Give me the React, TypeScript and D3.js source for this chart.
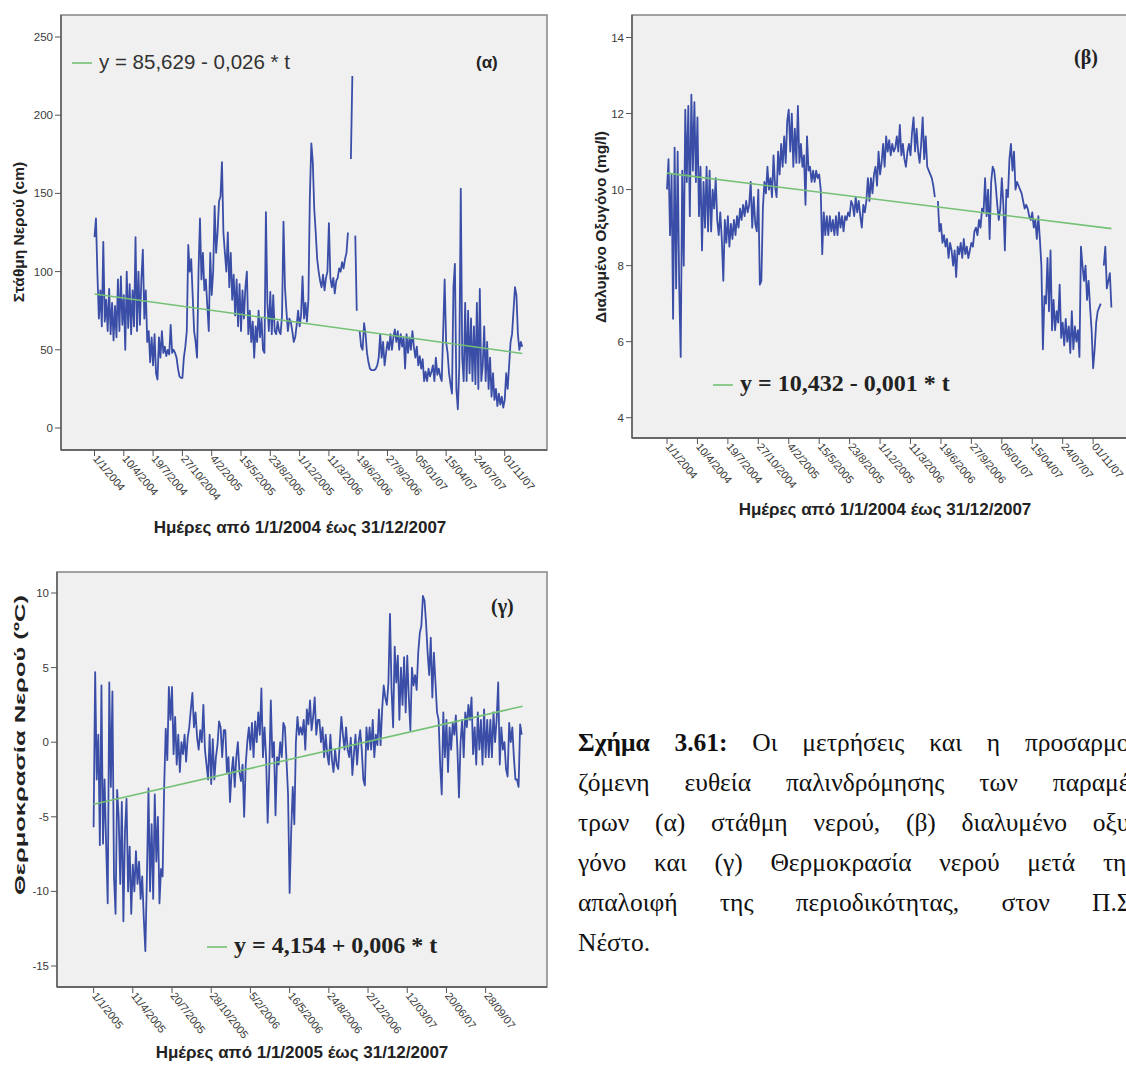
import React from 'react';
import * as d3 from 'd3';

// ---------- DATA ----------
// Water level (cm), one reading every 5 days from 1/1/2004 (null = no data)
const waterLevel: (number | null)[] = [
  122,134,98,70,88,65,119,68,82,62,
  89,60,80,56,78,58,95,62,97,66,
  85,50,100,64,92,60,88,65,122,62,
  100,66,95,114,70,88,55,62,42,58,
  40,60,35,31,58,45,62,48,52,46,
  50,47,66,48,50,48,45,38,33,32,
  32,45,52,62,117,100,108,85,62,55,
  45,100,134,95,112,88,95,78,62,112,
  85,100,142,112,125,145,148,170,125,112,
  100,125,90,112,82,98,72,95,65,92,
  62,88,70,90,100,60,75,55,68,45,
  65,55,75,58,70,50,48,138,80,62,
  87,60,85,62,60,68,62,60,72,132,
  90,75,62,70,68,62,55,58,66,75,
  65,72,97,70,80,68,82,148,182,170,
  140,125,108,100,94,90,98,88,96,100,
  131,96,90,96,86,94,96,102,100,106,
  102,108,112,125,null,172,225,null,123,75,
  null,62,52,50,67,60,48,42,38,37,
  37,37,38,40,45,60,45,55,40,48,
  55,50,60,50,58,63,55,62,50,60,
  52,58,38,60,48,58,50,62,52,45,
  52,40,46,38,44,30,36,30,38,33,
  36,40,30,45,34,38,33,30,62,95,
  55,48,35,28,22,90,105,25,12,40,
  153,45,30,80,30,75,35,70,30,65,
  28,80,25,89,30,40,65,30,55,25,
  45,20,35,18,25,14,22,15,20,13,
  18,35,25,40,55,60,75,90,85,60,
  50,55,52
];

// Dissolved oxygen (mg/l), one reading every 5 days from 1/1/2004
const dissolvedOxygen: (number | null)[] = [
  10.0,10.8,8.8,10.4,6.6,11.1,7.4,11.0,7.5,5.6,
  10.5,8.0,12.1,10.2,12.2,9.3,12.5,10.5,12.3,10.2,
  11.9,9.3,10.6,8.4,10.2,9.0,10.6,8.9,10.5,8.9,
  10.0,9.5,10.3,9.2,8.8,9.4,8.7,7.6,9.2,8.6,
  9.3,8.5,9.1,8.7,9.2,8.8,9.3,9.0,9.5,9.2,
  9.6,9.3,9.7,9.4,9.6,10.2,9.0,9.8,9.1,8.9,
  10.0,7.5,7.6,9.5,10.2,9.9,10.6,10.0,10.3,9.8,
  10.9,10.1,9.8,11.0,10.4,11.2,10.6,11.4,10.7,11.8,
  12.1,11.0,12.0,10.6,11.6,10.7,12.2,10.7,11.2,10.6,
  10.9,9.6,11.4,10.5,10.6,10.2,10.5,10.2,10.5,10.3,
  10.4,10.0,8.3,9.4,8.8,9.3,8.8,9.3,8.9,9.2,
  8.8,9.3,8.8,9.4,9.0,9.3,8.9,9.3,9.2,9.4,
  9.3,9.7,9.6,9.3,9.8,9.4,9.7,9.3,9.0,9.6,
  9.4,9.7,10.3,9.7,10.3,9.9,10.4,10.6,10.1,11.0,
  10.4,10.7,11.2,10.6,11.4,11.0,11.3,10.9,11.2,11.0,
  11.1,11.4,11.0,11.7,10.9,11.2,10.8,10.6,11.0,11.2,
  10.9,11.5,11.9,11.0,11.6,11.0,10.7,11.2,11.9,10.8,
  11.4,10.6,10.5,10.4,10.3,10.1,9.8,null,9.7,8.9,
  9.1,8.6,8.8,8.5,8.7,8.2,8.6,8.4,8.0,8.4,
  7.7,8.5,8.3,8.6,8.2,8.7,8.3,8.5,8.2,8.4,
  8.6,8.5,8.9,9.0,8.8,9.2,9.0,9.5,9.4,10.3,
  9.3,10.0,8.7,10.2,10.6,10.5,10.1,9.6,9.2,9.5,
  10.3,9.6,8.4,10.0,9.8,10.8,11.2,10.5,11.0,10.0,
  10.2,10.1,10.0,9.9,9.7,9.5,9.6,9.5,9.3,9.2,
  9.4,9.0,9.2,8.7,9.3,8.7,8.0,5.8,7.2,7.0,
  8.2,6.8,8.4,6.3,7.1,6.3,6.8,6.5,7.5,6.1,
  6.5,5.9,6.6,6.0,6.4,5.7,6.8,5.8,6.4,6.0,
  6.3,5.6,8.5,8.0,7.6,8.0,7.1,7.6,6.9,6.3,
  5.3,5.8,6.5,6.8,6.9,7.0,null,8.0,8.5,7.4,
  7.6,7.8,6.9
];

// Water temperature anomaly (ºC), one reading every 4 days from 1/1/2005
const waterTemp: (number | null)[] = [
  -5.7,4.7,-2.5,0.5,-6.9,3.8,-6.8,-2.5,-6.9,-10.8,
  4.0,-3.0,3.4,-9.0,-11.5,-3.2,-5.0,-9.5,-4.0,-12.0,
  -6.0,-3.8,-10.0,-7.0,-11.5,-8.2,-10.0,-7.3,-9.5,-8.0,
  -10.5,-9.0,-11.8,-14.0,-9.0,-3.1,-10.0,-5.5,-10.5,-3.5,
  -8.0,-5.0,-10.8,-8.5,-9.0,-3.0,0.9,-1.2,3.7,1.5,
  3.7,-0.8,1.7,-1.5,0.5,-2.0,0.0,-0.8,0.5,-1.3,
  0.3,1.0,2.2,3.3,1.0,2.0,0.3,-0.5,0.8,0.0,
  2.5,-0.5,-1.5,-2.5,0.5,-2.8,0.2,-2.5,-1.0,-0.2,
  1.4,1.0,-1.0,0.8,0.8,-2.0,-1.0,-4.0,-2.0,-1.0,
  -3.0,-1.0,0.0,-2.0,-2.6,-1.5,-5.0,-1.5,0.0,1.0,
  -0.5,1.3,-1.0,1.4,0.0,2.0,0.5,3.6,-1.0,1.0,
  -1.0,-5.4,-2.0,2.8,-1.0,0.0,-4.9,-1.0,-1.5,0.0,
  -1.0,1.3,1.0,-1.2,-3.5,-10.1,-6.0,-3.0,-5.5,0.0,
  1.7,0.5,1.0,0.5,1.5,-0.5,2.2,1.2,2.8,0.8,
  1.7,3.0,0.5,1.5,1.5,0.0,1.0,-1.0,0.5,-0.8,
  -1.5,0.5,-1.2,-2.0,-0.5,-1.5,-1.8,0.0,1.7,0.5,
  -0.5,1.0,-0.5,-1.0,0.3,-2.2,-0.8,0.5,-1.5,0.0,
  0.8,-0.5,-2.5,-2.9,1.0,-0.5,1.0,-0.5,1.5,-1.0,
  0.5,-0.2,2.2,-0.2,2.2,3.8,3.0,2.5,4.0,8.6,
  3.5,1.0,6.4,4.0,5.8,1.5,5.0,2.5,5.7,2.0,
  5.8,3.0,0.8,5.0,3.8,4.5,3.5,6.0,7.3,7.8,
  9.8,9.5,8.0,6.0,4.5,7.0,3.0,6.0,4.0,2.0,
  1.5,-1.5,-3.5,2.0,-1.0,1.5,-2.0,1.0,-0.5,1.3,
  0.5,1.8,-0.5,-3.7,0.0,1.5,-1.0,2.0,1.0,2.5,
  1.5,3.0,-0.8,1.0,-1.5,2.0,-0.5,1.5,-1.5,2.2,
  -1.0,1.5,-1.0,1.5,-1.0,2.0,0.0,1.5,4.0,-1.5,
  1.0,-0.5,0.0,-1.8,-2.3,1.3,0.0,1.0,-1.0,-2.5,
  -2.5,-3.0,1.2,0.5
];

// x tick labels (every 100 days)
const dateTicks2004 = [
  '1/1/2004', '10/4/2004', '19/7/2004', '27/10/2004', '4/2/2005', '15/5/2005',
  '23/8/2005', '1/12/2005', '11/3/2006', '19/6/2006', '27/9/2006', '05/01/07',
  '15/04/07', '24/07/07', '01/11/07'
];
const dateTicks2005 = [
  '1/1/2005', '11/4/2005', '20/7/2005', '28/10/2005', '5/2/2006', '16/5/2006',
  '24/8/2006', '2/12/2006', '12/03/07', '20/06/07', '28/09/07'
];

// y ticks
const levelTicks = [0, 50, 100, 150, 200, 250];
const oxygenTicks = [4, 6, 8, 10, 12, 14];
const tempTicks = [-15, -10, -5, 0, 5, 10];

// regression lines: [intercept, slope per day]
const levelTrend = [85.629, -0.026];
const oxygenTrend = [10.432, -0.001];
const tempTrend = [-4.154, 0.006];

const levelEquation = 'y = 85,629 - 0,026 * t';
const oxygenEquation = 'y = 10,432 - 0,001 * t';
const tempEquation = 'y = 4,154 + 0,006 * t';

const captionLines: { bold: string[]; words: string[]; justify: boolean }[] = [
  { bold: ['Σχήμα', '3.61:'], words: ['Οι', 'μετρήσεις', 'και', 'η', 'προσαρμο-'], justify: true },
  { bold: [], words: ['ζόμενη', 'ευθεία', 'παλινδρόμησης', 'των', 'παραμέ-'], justify: true },
  { bold: [], words: ['τρων', '(α)', 'στάθμη', 'νερού,', '(β)', 'διαλυμένο', 'οξυ-'], justify: true },
  { bold: [], words: ['γόνο', 'και', '(γ)', 'Θερμοκρασία', 'νερού', 'μετά', 'την'], justify: true },
  { bold: [], words: ['απαλοιφή', 'της', 'περιοδικότητας,', 'στον', 'Π.Σ.'], justify: true },
  { bold: [], words: ['Νέστο.'], justify: false },
];

// ---------- STYLE ----------
const SANS = "'Liberation Sans', Arial, sans-serif";
const SERIF = "'Liberation Serif', 'Times New Roman', serif";
const BLUE = '#3a4ea8';
const GREEN = '#74c175';
const PLOT_BG = '#f0f0f0';

let measureCtx: CanvasRenderingContext2D | null = null;
function textWidth(s: string, font: string): number {
  if (!measureCtx) {
    const c = document.createElement('canvas');
    measureCtx = c.getContext('2d');
  }
  if (!measureCtx) return s.length * 10;
  measureCtx.font = font;
  return measureCtx.measureText(s).width;
}

type PanelProps = {
  values: (number | null)[];
  stepDays: number;
  totalDays: number;
  tickLabels: string[];
  tickFont: number;
  tickAngle: number;
  yTicks: number[];
  trend: number[];
  frame: { l: number; r: number; t: number; b: number };
  xRange: [number, number];
  yDomain: [number, number];
  yRange: [number, number];
  yTitle: string;
  yTitleX: number;
  yTitleY: number;
  yTitleSize: number;
  yTitleLength?: number;
  xTitle: string;
  xTitleX: number;
  xTitleY: number;
  xTitleSize: number;
  legend: { x: number; y: number; text: string; font: string; size: number; weight: string; color: string };
  tag: { x: number; y: number; text: string; font: string; size: number };
};

function Panel(p: PanelProps) {
  const x = d3.scaleLinear().domain([0, p.totalDays]).range(p.xRange);
  const y = d3.scaleLinear().domain(p.yDomain).range(p.yRange);
  const pts = p.values.map((v, i) => ({ d: i * p.stepDays, v }));
  const line = d3
    .line<{ d: number; v: number | null }>()
    .defined((q) => q.v !== null)
    .x((q) => x(q.d))
    .y((q) => y(q.v as number));
  const trendPts = [0, p.totalDays].map((d) => ({ d, v: p.trend[0] + p.trend[1] * d }));
  const { l, r, t, b } = p.frame;
  return (
    <g>
      <rect x={l} y={t} width={r - l} height={b - t} fill={PLOT_BG} stroke="#8d8d8d" strokeWidth={1.6} />
      <line x1={l} y1={t} x2={l} y2={b} stroke="#555" strokeWidth={1.3} />
      <line x1={l} y1={b} x2={r} y2={b} stroke="#555" strokeWidth={1.3} />
      {p.yTicks.map((v) => (
        <g key={'y' + v}>
          <line x1={l - 6} x2={l} y1={y(v)} y2={y(v)} stroke="#555" strokeWidth={1} />
          <text x={l - 8} y={y(v) + 4} textAnchor="end" fontFamily={SANS} fontSize={11.5} fill="#3a3a3a">
            {v}
          </text>
        </g>
      ))}
      {p.tickLabels.map((lab, k) => {
        const px = x(k * 100);
        return (
          <g key={'x' + k}>
            <line x1={px} x2={px} y1={b} y2={b + 6} stroke="#555" strokeWidth={1} />
            <text
              transform={`translate(${px - 2},${b + 9}) rotate(${p.tickAngle})`}
              fontFamily={SANS}
              fontSize={p.tickFont}
              fill="#3a3a3a"
            >
              {lab}
            </text>
          </g>
        );
      })}
      <path d={line(pts) || ''} fill="none" stroke={BLUE} strokeWidth={1.8} strokeLinejoin="round" />
      <path d={line(trendPts) || ''} fill="none" stroke={GREEN} strokeWidth={1.6} />
      <line x1={p.legend.x} x2={p.legend.x + 20} y1={p.legend.y - 6} y2={p.legend.y - 6} stroke={GREEN} strokeWidth={1.6} />
      <text
        x={p.legend.x + 27}
        y={p.legend.y}
        fontFamily={p.legend.font}
        fontSize={p.legend.size}
        fontWeight={p.legend.weight}
        fill={p.legend.color}
      >
        {p.legend.text}
      </text>
      <text x={p.tag.x} y={p.tag.y} fontFamily={p.tag.font} fontSize={p.tag.size} fontWeight="bold" fill="#222">
        {p.tag.text}
      </text>
      <text
        transform={`translate(${p.yTitleX},${p.yTitleY}) rotate(-90)`}
        textAnchor="middle"
        fontFamily={SANS}
        fontWeight="bold"
        fontSize={p.yTitleSize}
        fill="#222"
        textLength={p.yTitleLength}
        lengthAdjust={p.yTitleLength ? 'spacingAndGlyphs' : undefined}
      >
        {p.yTitle}
      </text>
      <text x={p.xTitleX} y={p.xTitleY} textAnchor="middle" fontFamily={SANS} fontWeight="bold" fontSize={p.xTitleSize} fill="#222">
        {p.xTitle}
      </text>
    </g>
  );
}

function Caption() {
  const left = 578;
  const right = 1138;
  const size = 25.5;
  const top = 751;
  const lineGap = 40;
  const fontR = `${size}px 'Liberation Serif'`;
  const fontB = `bold ${size}px 'Liberation Serif'`;
  return (
    <g>
      {captionLines.map((ln, i) => {
        const items = [
          ...ln.bold.map((w) => ({ w, bold: true })),
          ...ln.words.map((w) => ({ w, bold: false })),
        ];
        const widths = items.map((it) => textWidth(it.w, it.bold ? fontB : fontR));
        const sum = widths.reduce((a, c) => a + c, 0);
        const space = textWidth(' ', fontR);
        const gap = ln.justify && items.length > 1 ? Math.max(space, (right - left - sum) / (items.length - 1)) : space;
        let cur = left;
        const y = top + i * lineGap;
        return items.map((it, k) => {
          const xk = cur;
          cur += widths[k] + gap;
          return (
            <text
              key={i + '-' + k}
              x={xk}
              y={y}
              fontFamily={SERIF}
              fontSize={size}
              fontWeight={it.bold ? 'bold' : 'normal'}
              fill="#111"
            >
              {it.w}
            </text>
          );
        });
      })}
    </g>
  );
}

export default function App() {
  return (
    <svg width={1126} height={1066} style={{ position: 'absolute', left: 0, top: 0, background: '#fff' }}>
      <rect x={0} y={0} width={1126} height={1066} fill="#fff" />
      <Panel
        values={waterLevel}
        stepDays={5}
        totalDays={1460}
        tickLabels={dateTicks2004}
        tickFont={11}
        tickAngle={50}
        yTicks={levelTicks}
        trend={levelTrend}
        frame={{ l: 61, r: 547, t: 15, b: 450 }}
        xRange={[94.5, 522.3]}
        yDomain={[0, 250]}
        yRange={[428, 37]}
        yTitle="Στάθμη Νερού (cm)"
        yTitleX={24}
        yTitleY={232}
        yTitleSize={15.5}
        xTitle="Ημέρες από 1/1/2004 έως 31/12/2007"
        xTitleX={300}
        xTitleY={533}
        xTitleSize={17}
        legend={{ x: 72, y: 69, text: levelEquation, font: SANS, size: 20.5, weight: 'normal', color: '#333' }}
        tag={{ x: 476, y: 68, text: '(α)', font: SANS, size: 17 }}
      />
      <Panel
        values={dissolvedOxygen}
        stepDays={5}
        totalDays={1460}
        tickLabels={dateTicks2004}
        tickFont={11}
        tickAngle={50}
        yTicks={oxygenTicks}
        trend={oxygenTrend}
        frame={{ l: 632, r: 1136, t: 15, b: 438 }}
        xRange={[667, 1111.4]}
        yDomain={[4, 14]}
        yRange={[417.7, 37.5]}
        yTitle="Διαλυμένο Οξυγόνο (mg/l)"
        yTitleX={606}
        yTitleY={227}
        yTitleSize={15.5}
        xTitle="Ημέρες από 1/1/2004 έως 31/12/2007"
        xTitleX={885}
        xTitleY={515}
        xTitleSize={17}
        legend={{ x: 713, y: 391, text: oxygenEquation, font: SERIF, size: 24, weight: 'bold', color: '#222' }}
        tag={{ x: 1074, y: 64, text: '(β)', font: SERIF, size: 20 }}
      />
      <Panel
        values={waterTemp}
        stepDays={4}
        totalDays={1094}
        tickLabels={dateTicks2005}
        tickFont={11}
        tickAngle={52}
        yTicks={tempTicks}
        trend={tempTrend}
        frame={{ l: 57, r: 547, t: 572, b: 987 }}
        xRange={[93.6, 522.5]}
        yDomain={[-15, 10]}
        yRange={[966, 593]}
        yTitle="Θερμοκρασία Νερού (ºC)"
        yTitleX={25}
        yTitleY={745}
        yTitleSize={15.5}
        yTitleLength={300}
        xTitle="Ημέρες από 1/1/2005 έως 31/12/2007"
        xTitleX={302}
        xTitleY={1058}
        xTitleSize={17}
        legend={{ x: 207, y: 953, text: tempEquation, font: SERIF, size: 24, weight: 'bold', color: '#222' }}
        tag={{ x: 491, y: 613, text: '(γ)', font: SERIF, size: 20 }}
      />
      <Caption />
    </svg>
  );
}
